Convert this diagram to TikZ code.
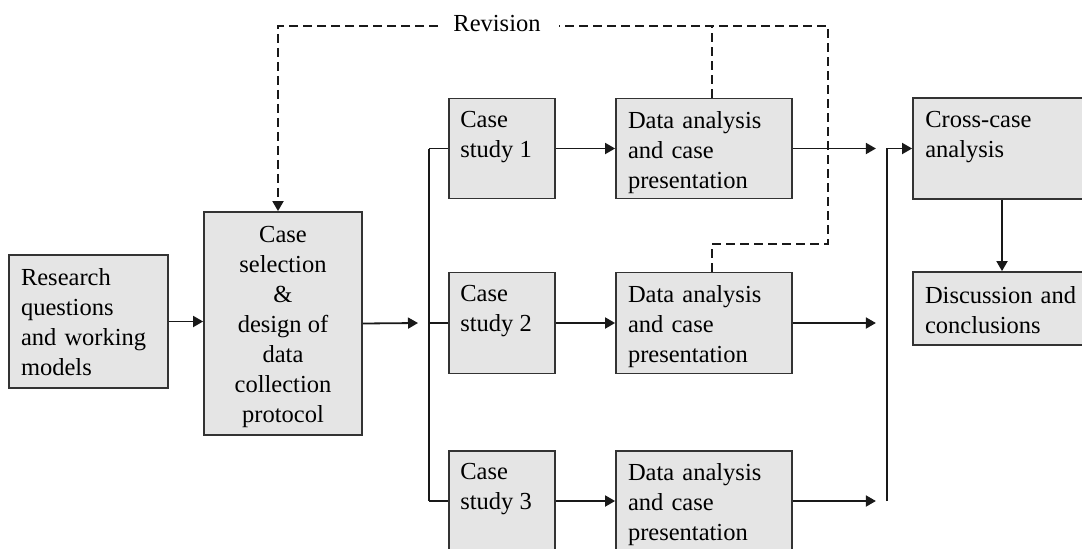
\documentclass[tikz,border=0pt]{standalone}
\usepackage{fontspec}
\setmainfont{Liberation Serif}
\usetikzlibrary{arrows.meta}

\tikzset{
  every node/.style={font=\fontsize{24.5}{30}\selectfont, inner sep=0pt},
  box/.style={draw=black!80, line width=1.8pt, fill=black!10, rectangle},
  txt/.style={align=left, text width=#1},
  conn/.style={line width=1.8pt, draw=black!90},
  arr/.style={conn, -{Triangle[length=10pt,width=11pt]}},
  dsh/.style={line width=1.8pt, draw=black!90, dash pattern=on 9pt off 5pt},
  darr/.style={dsh, -{Triangle[length=10pt,width=11pt]}},
}

\begin{document}
\begin{tikzpicture}[x=1pt, y=-1pt]
\useasboundingbox (0,0) rectangle (1082,549);

% boxes
\node[box, minimum width=159pt, minimum height=133pt] (rq) at (88.5,321.5) {};
\node[txt=135pt] at ([yshift=-1pt]rq) {Research\\questions\\and working\\models};

\node[box, minimum width=158pt, minimum height=223pt] (cs) at (283,323.5) {};
\node[align=center] at ([yshift=-3pt]cs)
  {Case\\selection\\\&\\design of\\data\\collection\\protocol};

\node[box, minimum width=106pt, minimum height=100pt] (c1) at (502,148.5) {};
\node[box, minimum width=106pt, minimum height=101pt] (c2) at (502,323) {};
\node[box, minimum width=106pt, minimum height=100pt] (c3) at (502,501) {};
\foreach \c in {1,2,3}
  \node[anchor=north west, align=left] at ([xshift=12pt,yshift=-13pt]c\c.north west)
    {Case\\study \c};

\node[box, minimum width=176pt, minimum height=100pt] (d1) at (704,148.5) {};
\node[box, minimum width=176pt, minimum height=101pt] (d2) at (704,323) {};
\node[box, minimum width=176pt, minimum height=100pt] (d3) at (704,501) {};
\foreach \d in {d1,d2,d3}
  \node[txt=152pt] at ([yshift=-4pt]\d) {Data analysis\\and case\\presentation};

\node[box, minimum width=178pt, minimum height=101pt] (cc) at (1002,148.5) {};
\node[anchor=north west, align=left] at ([xshift=13pt,yshift=-14pt]cc.north west)
  {Cross-case\\analysis};
\node[box, minimum width=178pt, minimum height=73pt] (dc) at (1002,308.5) {};
\node[txt=154pt] at ([yshift=-2pt]dc) {Discussion and\\conclusions};

% main flow
\draw[arr] (rq.east) -- (rq.east -| cs.west);
\coordinate (split) at (429,323);
\draw[arr] (cs.east) -- ([xshift=-11pt]split);
\draw[conn] (c1.west -| split) -- (c3.west -| split);
\foreach \c in {1,2,3}
  \draw[conn] (c\c.west -| split) -- (c\c.west);
\foreach \c in {1,2,3} {
  \draw[arr] (c\c.east) -- (d\c.west);
  \draw[arr] (d\c.east) -- ++(83pt,0);
}
\coordinate (merge) at (887,501);
\draw[arr] (merge) |- (cc.west);
\draw[arr] (cc.south) -- (dc.north);

% revision loop
\node[anchor=base] (rev) at (497,31) {Revision};
\coordinate (rv) at (828,26);
\coordinate (d1top) at ([xshift=8pt]d1.north);
\coordinate (d2top) at ([xshift=8pt]d2.north);
\draw[dsh] (d2top) -- (d2top |- 0,244) -- (rv |- 0,244) -- (rv)
  -- ([xshift=18pt]rev.east |- rv);
\draw[darr] ([xshift=-15pt]rev.west |- rv) -- (278,26) -- (cs.north -| 278,0);
\draw[dsh] (d1top) -- (d1top |- rv);
\end{tikzpicture}
\end{document}
